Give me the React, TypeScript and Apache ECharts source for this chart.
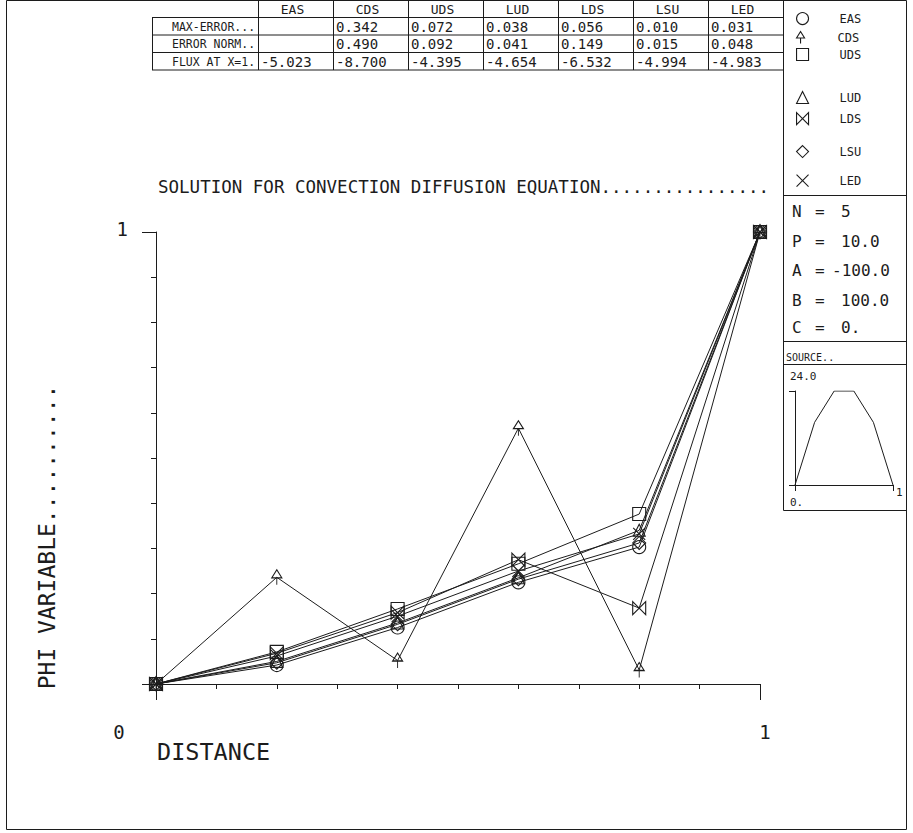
import React, { useEffect, useRef } from 'react';
import * as echarts from 'echarts';

// ---------- data ----------
const DISTANCE = [0, 0.2, 0.4, 0.6, 0.8, 1];
const PHI_EAS = [0, 0.042, 0.125, 0.225, 0.303, 1];
const PHI_CDS = [0, 0.236, 0.052, 0.566, 0.031, 1];
const PHI_UDS = [0, 0.071, 0.166, 0.266, 0.376, 1];
const PHI_LUD = [0, 0.05, 0.135, 0.235, 0.34, 1];
const PHI_LDS = [0, 0.068, 0.158, 0.275, 0.168, 1];
const PHI_LSU = [0, 0.047, 0.132, 0.232, 0.312, 1];
const PHI_LED = [0, 0.062, 0.15, 0.25, 0.332, 1];

const SCHEMES = ['EAS', 'CDS', 'UDS', 'LUD', 'LDS', 'LSU', 'LED'];
const PHI_BY_SCHEME = [PHI_EAS, PHI_CDS, PHI_UDS, PHI_LUD, PHI_LDS, PHI_LSU, PHI_LED];

const MAX_ERROR = [null, 0.342, 0.072, 0.038, 0.056, 0.01, 0.031];
const ERROR_NORM = [null, 0.49, 0.092, 0.041, 0.149, 0.015, 0.048];
const FLUX_AT_1 = [-5.023, -8.7, -4.395, -4.654, -6.532, -4.994, -4.983];
const ROW_LABELS = ['MAX-ERROR...', 'ERROR NORM..', 'FLUX AT X=1.'];

const PARAM_NAMES = ['N', 'P', 'A', 'B', 'C'];
const PARAM_VALUES = ['5', '10.0', '-100.0', '100.0', '0.'];

const SOURCE_X = [0, 0.2, 0.4, 0.6, 0.8, 1];
const SOURCE_Y = [0, 16, 24, 24, 16, 0];
const SOURCE_LABELS = ['SOURCE..', '24.0', '0.', '1'];

const X_TICKS = [0, 1];
const X_TICK_LABELS = ['0', '1'];
const Y_TICKS = [1];
const Y_TICK_LABELS = ['1'];

const TITLE = 'SOLUTION FOR CONVECTION DIFFUSION EQUATION................';
const X_NAME = 'DISTANCE';
const Y_NAME = 'PHI VARIABLE..........';

// ---------- styles ----------
const INK = '#1c1c1c';
const FONT = '"DejaVu Sans Mono", "Liberation Mono", monospace';

const SYMBOLS: Record<string, string> = {
  EAS: 'circle',
  CDS: 'path://M5,0 L10,8 L0,8 Z M5,8 L5,15',
  UDS: 'rect',
  LUD: 'triangle',
  LDS: 'path://M0,0 L10,10 L10,0 L0,10 Z',
  LSU: 'diamond',
  LED: 'path://M0,0 L10,10 M10,0 L0,10',
};
const SIZES: Record<string, any> = {
  EAS: 13, CDS: [10, 15], UDS: 13, LUD: 12, LDS: 13, LSU: 13, LED: 12,
};
const LEGEND_Y = [18, 37, 54, 97, 118, 151, 180];

function txt(text: string, x: number, y: number, size: number, align = 'left', extra: any = {}) {
  return {
    type: 'text',
    x,
    y,
    silent: true,
    ...extra,
    style: {
      text,
      fontSize: size,
      fontFamily: FONT,
      fill: INK,
      align,
      verticalAlign: 'middle',
      textAlign: align,
      textVerticalAlign: 'middle',
    },
  };
}
function ln(x1: number, y1: number, x2: number, y2: number) {
  return { type: 'line', silent: true, shape: { x1, y1, x2, y2 }, style: { stroke: INK, lineWidth: 1 } };
}

function buildGraphic() {
  const g: any[] = [];
  // page frame
  g.push({ type: 'rect', silent: true, shape: { x: 6.5, y: 0.5, width: 900, height: 829 }, style: { fill: 'none', stroke: INK, lineWidth: 1 } });

  // table
  const tLeft = 258, cellW = 75, labelLeft = 152;
  const rowsY = [0.5, 17.5, 35, 52.5, 70];
  const tRight = tLeft + cellW * SCHEMES.length;
  g.push(ln(tLeft, rowsY[0], tRight, rowsY[0]));
  for (let r = 1; r < rowsY.length; r++) g.push(ln(labelLeft, rowsY[r], tRight, rowsY[r]));
  g.push(ln(labelLeft + 0.5, rowsY[1], labelLeft + 0.5, rowsY[4]));
  for (let k = 0; k <= SCHEMES.length; k++) {
    const x = tLeft + k * cellW + 0.5;
    g.push(ln(x, rowsY[0], x, rowsY[4]));
  }
  SCHEMES.forEach((s, i) => {
    g.push(txt(s, tLeft + i * cellW + cellW / 2 - 3, 9.5, 13, 'center'));
  });
  const rows = [MAX_ERROR, ERROR_NORM, FLUX_AT_1];
  rows.forEach((row, r) => {
    const yc = (rowsY[r + 1] + rowsY[r + 2]) / 2 + 0.5;
    g.push(txt(ROW_LABELS[r], 172, yc, 11.5));
    row.forEach((v, i) => {
      if (v === null) return;
      g.push(txt((v as number).toFixed(3), tLeft + i * cellW + 3, yc, 14));
    });
  });

  // right panel
  const pL = 783.5, pR = 906.5;
  g.push(ln(pL, 0.5, pL, 510.5));
  g.push(ln(pL, 195.5, pR, 195.5));
  g.push(ln(pL, 341.5, pR, 341.5));
  g.push(ln(pL, 364.5, pR, 364.5));
  g.push(ln(pL, 510.5, pR, 510.5));
  const paramY = [211, 241, 270, 300, 327];
  PARAM_NAMES.forEach((n, i) => {
    g.push(txt(n, 792, paramY[i], 16));
    g.push(txt('=', 815, paramY[i], 16));
    g.push(txt(PARAM_VALUES[i], PARAM_VALUES[i].startsWith('-') ? 832 : 841, paramY[i], 16));
  });
  g.push(txt(SOURCE_LABELS[0], 786, 357, 10));
  g.push(txt(SOURCE_LABELS[1], 790, 376, 11));
  g.push(txt(SOURCE_LABELS[2], 790, 502, 11));
  g.push(txt(SOURCE_LABELS[3], 896, 492, 11));

  // titles
  g.push(txt(TITLE, 158, 187, 17.5));
  g.push(txt(X_NAME, 157, 752, 23.5));
  g.push(txt(Y_NAME, 47, 537, 23, 'center', { rotation: Math.PI / 2 }));
  return g;
}

function tickFormatter(ticks: number[], labels: string[], key: string) {
  return (v: number) => {
    const i = ticks.findIndex((t) => Math.abs(t - v) < 1e-9);
    return i < 0 ? '' : `{${key}${i}|${labels[i]}}`;
  };
}

function buildOption() {
  const labelFont = { fontFamily: FONT, fontSize: 19, color: INK };
  const axisLine = { show: true, lineStyle: { color: INK, width: 1 } };
  const series: any[] = SCHEMES.map((name, i) => ({
    type: 'line',
    name,
    xAxisIndex: 0,
    yAxisIndex: 0,
    data: DISTANCE.map((x, j) => [x, PHI_BY_SCHEME[i][j]]),
    symbol: SYMBOLS[name],
    symbolSize: SIZES[name],
    showAllSymbol: true,
    lineStyle: { color: INK, width: 1 },
    itemStyle: { color: 'rgba(0,0,0,0)', borderColor: INK, borderWidth: 1.1 },
    emphasis: { disabled: true },
    z: 3,
  }));
  series.push({
    type: 'line',
    name: 'SOURCE',
    xAxisIndex: 2,
    yAxisIndex: 2,
    data: SOURCE_X.map((x, j) => [x, SOURCE_Y[j]]),
    symbol: 'none',
    lineStyle: { color: INK, width: 1 },
    emphasis: { disabled: true },
  });

  const legends = SCHEMES.map((name, i) => ({
    orient: 'vertical',
    left: 791,
    top: LEGEND_Y[i] - 11,
    itemWidth: 12,
    itemHeight: 12,
    selectedMode: false,
    data: [{ name, icon: SYMBOLS[name] }],
    itemStyle: { color: 'rgba(0,0,0,0)', borderColor: INK, borderWidth: 1.1 },
    textStyle: { fontFamily: FONT, fontSize: 12, color: INK, lineHeight: 12, padding: [0, 0, 0, 26] },
  }));

  return {
    animation: false,
    backgroundColor: '#ffffff',
    grid: [
      { left: 156, top: 232, width: 604, height: 452 },
      { left: 795, top: 391, width: 98, height: 94 },
    ],
    xAxis: [
      {
        gridIndex: 0, type: 'value', min: 0, max: 1, interval: 0.1, position: 'bottom',
        axisLine, axisTick: { show: true, length: 5, lineStyle: { color: INK } }, splitLine: { show: false },
        axisLabel: {
          margin: 38,
          formatter: tickFormatter(X_TICKS, X_TICK_LABELS, 'x'),
          rich: {
            x0: { ...labelFont, padding: [0, 74, 0, 0] },
            x1: { ...labelFont, padding: [0, 0, 0, 10] },
          },
        },
      },
      {
        gridIndex: 0, type: 'value', min: 0, max: 1, interval: 1, position: 'bottom',
        axisLine: { show: false }, axisTick: { show: true, length: 16, lineStyle: { color: INK } },
        axisLabel: { show: false }, splitLine: { show: false },
      },
      {
        gridIndex: 1, type: 'value', min: 0, max: 1, interval: 1,
        axisLine, axisTick: { show: true, length: 6, lineStyle: { color: INK } },
        axisLabel: { show: false }, splitLine: { show: false },
      },
    ],
    yAxis: [
      {
        gridIndex: 0, type: 'value', min: 0, max: 1, interval: 0.1, position: 'left',
        axisLine, axisTick: { show: true, length: 5, lineStyle: { color: INK } }, splitLine: { show: false },
        axisLabel: {
          margin: 28,
          formatter: tickFormatter(Y_TICKS, Y_TICK_LABELS, 'y'),
          rich: { y0: { ...labelFont, padding: [0, 0, 6, 0] } },
        },
      },
      {
        gridIndex: 0, type: 'value', min: 0, max: 1, interval: 1, position: 'left',
        axisLine: { show: false }, axisTick: { show: true, length: 14, lineStyle: { color: INK } },
        axisLabel: { show: false }, splitLine: { show: false },
      },
      {
        gridIndex: 1, type: 'value', min: 0, max: 24, interval: 24,
        axisLine, axisTick: { show: true, length: 6, lineStyle: { color: INK } },
        axisLabel: { show: false }, splitLine: { show: false },
      },
    ],
    legend: legends,
    series,
    graphic: buildGraphic(),
  };
}

export default function App() {
  const ref = useRef<HTMLDivElement>(null);
  useEffect(() => {
    if (!ref.current) return;
    const chart = echarts.init(ref.current, undefined, { renderer: 'svg' });
    chart.setOption(buildOption() as any);
    return () => chart.dispose();
  }, []);
  return (
    <div
      ref={ref}
      style={{ position: 'absolute', left: 0, top: 0, width: 913, height: 833, background: '#fff' }}
    />
  );
}
